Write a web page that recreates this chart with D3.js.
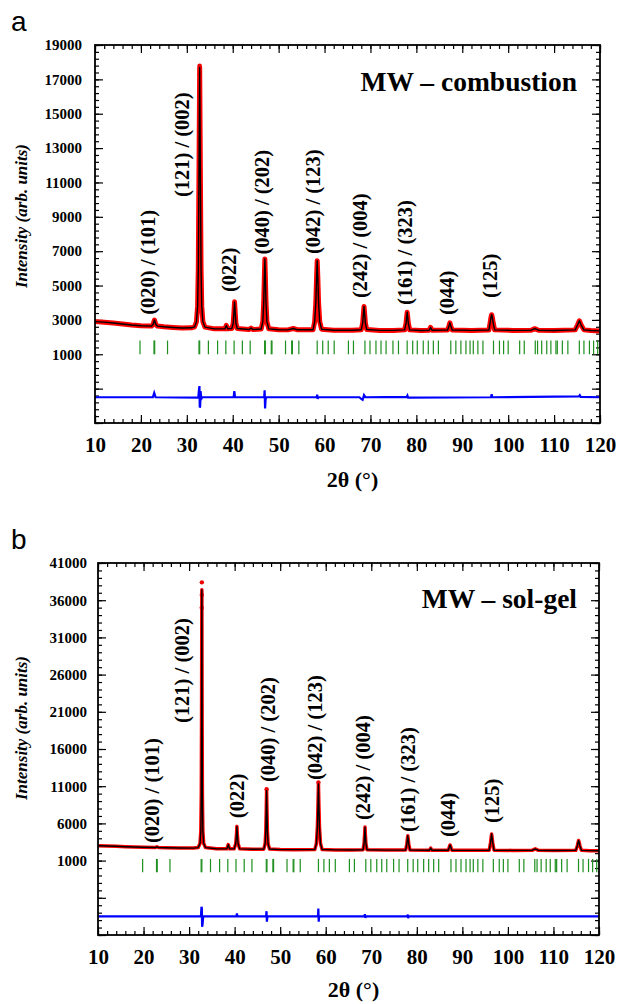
<!DOCTYPE html>
<html>
<head>
<meta charset="utf-8">
<script src="https://cdn.jsdelivr.net/npm/d3@7"></script>
<style>
  body { margin: 0; background: #fff; }
  svg text { font-family: "Liberation Serif", "Times New Roman", serif; font-weight: bold; fill: #000; }
  svg text.letter { font-family: "Liberation Sans", Arial, sans-serif; font-weight: normal; }
  svg text.ylab { font-style: italic; }
</style>
</head>
<body>
<svg id="chart" width="619" height="1004"></svg>
<script>
/* ---------- data ---------- */
const xTicks = [10, 20, 30, 40, 50, 60, 70, 80, 90, 100, 110, 120];
const yTicksA = [1000, 3000, 5000, 7000, 9000, 11000, 13000, 15000, 17000, 19000];
const yTicksB = [1000, 6000, 11000, 16000, 21000, 26000, 31000, 36000, 41000];

// observed / calculated profile, panel a  [2theta, counts]
const profileA = [
  [10,2900],[12,2870],[14,2820],[16,2760],[18,2700],[20,2660],[22.3,2640],[22.65,2730],[22.95,2990],[23.25,2730],
  [23.6,2640],[25,2600],[27,2560],[29,2530],[31,2540],[31.7,2600],[32.1,2900],[32.35,3800],[32.5,6000],[32.66,12000],
  [32.8,17700],[32.94,12000],[33.1,6000],[33.25,3800],[33.5,2900],[33.95,2580],[36,2480],[38.3,2480],[38.6,2680],[38.9,2480],
  [39.8,2500],[40.1,2800],[40.28,3500],[40.4,4050],[40.52,3500],[40.7,2800],[41.0,2500],[43.5,2440],[44.0,2520],[44.4,2440],
  [46.2,2470],[46.55,2900],[46.75,4000],[46.9,5600],[47.0,6550],[47.1,5600],[47.25,4000],[47.45,2900],[47.85,2480],[50,2430],
  [52,2420],[53.2,2500],[54,2430],[57.5,2430],[57.85,2900],[58.1,4000],[58.27,5500],[58.4,6450],[58.53,5500],[58.7,4000],
  [58.95,2900],[59.35,2460],[62,2400],[66,2400],[68.0,2430],[68.3,2800],[68.48,3400],[68.6,3780],[68.72,3400],[68.9,2800],
  [69.2,2440],[72,2390],[75,2390],[77.45,2420],[77.75,2800],[77.9,3200],[78.0,3450],[78.1,3200],[78.25,2800],[78.55,2420],
  [81,2380],[82.8,2400],[83.1,2560],[83.4,2400],[86.8,2410],[87.1,2650],[87.3,2830],[87.5,2650],[87.8,2410],[92,2390],
  [95.8,2410],[96.05,2800],[96.25,3150],[96.4,3300],[96.55,3150],[96.75,2800],[97.05,2420],[101,2390],[105,2400],[105.8,2490],
  [106.6,2400],[110,2380],[114.6,2420],[115.1,2700],[115.5,2950],[115.9,2700],[116.5,2420],[118,2380],[120,2360]
];
const obsTopsA = [[32.8, 17800], [32.8, 17300]];
const diffA = [
  [10,-1500],[22.6,-1500],[22.9,-1250],[23.2,-1500],[32.5,-1520],[32.65,-1050],[32.75,-850],[32.82,-2100],[32.9,-2050],
  [33.0,-1150],[33.15,-1600],[33.4,-1500],[40.2,-1500],[40.35,-1150],[40.5,-1500],[46.85,-1500],[46.95,-1100],[47.05,-2150],
  [47.15,-1650],[47.3,-1500],[58.3,-1500],[58.4,-1350],[58.5,-1600],[58.6,-1500],[67.6,-1500],[68.0,-1600],[68.3,-1650],
  [68.6,-1380],[68.9,-1500],[77.9,-1480],[78.05,-1400],[78.2,-1520],[96.25,-1500],[96.4,-1330],[96.55,-1500],[115.4,-1450],
  [115.6,-1380],[115.8,-1480],[120,-1500]
];

// panel b
const profileB = [
  [10,3000],[12,2960],[14,2920],[16,2870],[18,2830],[20,2790],[22.6,2760],[22.95,2850],[23.3,2760],[25,2730],
  [28,2690],[31,2680],[32.0,2750],[32.4,3300],[32.58,5000],[32.68,10000],[32.74,20000],[32.8,37400],[32.86,20000],[32.92,10000],
  [33.02,5000],[33.2,3300],[33.6,2750],[36,2600],[38.3,2580],[38.6,3150],[38.9,2580],[39.9,2580],[40.25,3300],[40.42,4600],
  [40.5,5600],[40.58,4600],[40.75,3300],[41.1,2580],[44,2520],[46.4,2540],[46.7,3300],[46.85,5000],[46.95,8000],[47.02,10400],
  [47.09,8000],[47.19,5000],[47.34,3300],[47.65,2560],[50,2480],[53,2470],[57.6,2480],[57.95,3300],[58.17,5500],[58.3,8500],
  [58.4,11300],[58.5,8500],[58.63,5500],[58.85,3300],[59.2,2500],[62,2440],[66,2430],[68.2,2450],[68.42,3300],[68.54,4500],
  [68.62,5500],[68.7,4500],[68.82,3300],[69.05,2460],[73,2410],[77.55,2420],[77.8,3200],[77.93,3900],[78.02,4350],[78.11,3900],
  [78.24,3200],[78.5,2420],[82.8,2400],[83.05,2680],[83.3,2400],[86.9,2400],[87.12,2800],[87.3,3100],[87.48,2800],[87.7,2400],
  [92,2380],[95.9,2400],[96.18,3400],[96.32,4100],[96.42,4580],[96.52,4100],[96.66,3400],[96.95,2400],[101,2370],[105.3,2380],
  [106,2580],[106.7,2380],[110,2360],[114.9,2380],[115.25,3000],[115.42,3500],[115.52,3700],[115.62,3500],[115.8,3000],[116.15,2380],
  [118,2340],[120,2320]
];
const obsTopsB = [[32.8, 38400], [32.79, 36700], [32.78, 35000], [47.02, 10600], [58.4, 11500]];
const diffB = [
  [10,-6500],[32.6,-6500],[32.72,-5200],[32.8,-5400],[32.86,-7900],[32.95,-7600],[33.1,-6500],[40.4,-6500],[40.5,-6100],
  [40.6,-6500],[46.9,-6500],[47.0,-5800],[47.08,-7200],[47.2,-6500],[58.3,-6500],[58.38,-5450],[58.46,-7200],[58.55,-6500],
  [68.5,-6500],[68.6,-6200],[68.7,-6700],[68.8,-6500],[77.95,-6500],[78.02,-6250],[78.1,-6750],[78.2,-6500],[120,-6500]
];

// Bragg reflection positions (2theta)
const braggPos = [
  19.8, 22.85, 23.0, 25.8, 32.65, 32.8, 34.7, 36.7, 38.5, 40.3, 42.1, 43.8, 46.95, 47.1, 48.4, 48.55, 51.5, 52.85, 53.0, 54.4,
  58.4, 59.6, 60.8, 62.1, 65.2, 66.3, 68.8, 69.9, 71.2, 72.3, 73.4, 74.9, 76.1, 78.0, 79.2, 80.2, 81.5, 82.6, 83.7, 84.8,
  87.5, 88.6, 89.7, 90.8, 91.7, 92.4, 93.4, 94.5, 96.8, 98.1, 99.0, 100.0, 102.5, 103.5, 105.9, 106.4, 107.3, 108.4, 109.3,
  110.4, 110.7, 111.8, 113.0, 115.5, 116.5, 117.7, 118.6, 119.5
];

// peak labels and where they sit (2theta, counts at text start)
const peakLabels = ['(020) / (101)', '(121) / (002)', '(022)', '(040) / (202)', '(042) / (123)', '(242) / (004)', '(161) / (323)', '(044)', '(125)'];
const labelPosA = [[21.5, 3300], [29.0, 10150], [39.2, 4620], [46.4, 6800], [57.5, 6830], [67.7, 4270], [77.5, 3870], [86.7, 3280], [96.1, 4270]];
const labelPosB = [[21.9, 3370], [28.4, 19500], [40.5, 6700], [47.3, 11560], [57.6, 11830], [68.2, 6460], [78.1, 4840], [86.8, 4170], [96.5, 6050]];

/* ---------- layout ---------- */
const PANELS = [
  {
    letter: 'a', title: 'MW \u2013 combustion',
    left: 95, top: 45, width: 505, height: 378,
    yDomain: [-3000, 19000], yMajor: 2000, yMinor: 400, yTicks: yTicksA, yPad: 13,
    profile: profileA, obsTops: obsTopsA, diff: diffA, bragg: [1000, 1800], labels: labelPosA,
    redWidth: 5, titleY: 46, xLabelY: 487, yLabelY: 216,
  },
  {
    letter: 'b', title: 'MW \u2013 sol-gel',
    left: 98, top: 563, width: 501, height: 372,
    yDomain: [-9000, 41000], yMajor: 5000, yMinor: 1000, yTicks: yTicksB, yPad: 11,
    profile: profileB, obsTops: obsTopsB, diff: diffB, bragg: [-560, 1230], labels: labelPosB,
    redWidth: 3.5, titleY: 45, xLabelY: 997, yLabelY: 728,
  },
];

const svg = d3.select('#chart');

const cleanAxis = sel => {
  sel.select('.domain').remove();
  sel.selectAll('.tick line').attr('stroke', '#000').attr('stroke-width', 1.2);
};

const drawPanel = (P) => {
  const x = d3.scaleLinear().domain([10, 120]).range([0, P.width]);
  const y = d3.scaleLinear().domain(P.yDomain).range([P.height, 0]);
  const g = svg.append('g').attr('transform', `translate(${P.left},${P.top})`);

  const xMinor = d3.range(10, 120.1, 2);
  const yMajorAll = d3.range(P.yDomain[0], P.yDomain[1] + 1, P.yMajor);
  const yMinorAll = d3.range(P.yDomain[0], P.yDomain[1] + 1, P.yMinor);

  // minor ticks, all four sides, pointing inwards
  g.append('g').call(d3.axisLeft(y).tickValues(yMinorAll).tickSize(-4).tickFormat('')).call(cleanAxis);
  g.append('g').attr('transform', `translate(${P.width},0)`)
    .call(d3.axisRight(y).tickValues(yMinorAll).tickSize(-4).tickFormat('')).call(cleanAxis);
  g.append('g').attr('transform', `translate(0,${P.height})`)
    .call(d3.axisBottom(x).tickValues(xMinor).tickSize(-4).tickFormat('')).call(cleanAxis);
  g.append('g').call(d3.axisTop(x).tickValues(xMinor).tickSize(-4).tickFormat('')).call(cleanAxis);

  // major ticks
  g.append('g')
    .call(d3.axisLeft(y).tickValues(yMajorAll).tickSize(-8).tickPadding(P.yPad)
      .tickFormat(d => P.yTicks.includes(d) ? d : ''))
    .call(cleanAxis)
    .selectAll('text').attr('font-size', 15);
  g.append('g').attr('transform', `translate(${P.width},0)`)
    .call(d3.axisRight(y).tickValues(yMajorAll).tickSize(-8).tickFormat('')).call(cleanAxis);
  g.append('g').attr('transform', `translate(0,${P.height})`)
    .call(d3.axisBottom(x).tickValues(xTicks).tickSize(-8).tickPadding(14).tickFormat(d => d))
    .call(cleanAxis)
    .selectAll('text').attr('font-size', 21);
  g.append('g').call(d3.axisTop(x).tickValues(xTicks).tickSize(-8).tickFormat('')).call(cleanAxis);

  // Bragg positions
  g.append('g').selectAll('line')
    .data(braggPos)
    .join('line')
    .attr('x1', d => x(d)).attr('x2', d => x(d))
    .attr('y1', y(P.bragg[0])).attr('y2', y(P.bragg[1]))
    .attr('stroke', '#1f8f1f')
    .attr('stroke-width', 1.2);

  const line = d3.line().x(d => x(d[0])).y(d => y(d[1]));

  // difference curve
  g.append('path').datum(P.diff)
    .attr('d', line).attr('fill', 'none')
    .attr('stroke', '#0000ff').attr('stroke-width', 2.2);

  // observed (red) and calculated (black)
  g.append('path').datum(P.profile)
    .attr('d', line).attr('fill', 'none')
    .attr('stroke', '#ff0000').attr('stroke-width', P.redWidth)
    .attr('stroke-linejoin', 'round');
  g.append('g').selectAll('circle')
    .data(P.obsTops)
    .join('circle')
    .attr('cx', d => x(d[0])).attr('cy', d => y(d[1]))
    .attr('r', 2.2).attr('fill', '#ee0000');
  g.append('path').datum(P.profile)
    .attr('d', line).attr('fill', 'none')
    .attr('stroke', '#000').attr('stroke-width', 1.4)
    .attr('stroke-linejoin', 'round');

  // frame
  g.append('rect')
    .attr('width', P.width).attr('height', P.height)
    .attr('fill', 'none').attr('stroke', '#000').attr('stroke-width', 1.8);

  // peak labels
  g.append('g').selectAll('text')
    .data(peakLabels)
    .join('text')
    .attr('transform', (d, i) => `translate(${x(P.labels[i][0])},${y(P.labels[i][1])}) rotate(-90)`)
    .attr('dy', '0.35em')
    .attr('font-size', 20.5)
    .text(d => d);

  // title inside plot
  g.append('text')
    .attr('x', 577 - P.left).attr('y', P.titleY)
    .attr('text-anchor', 'end')
    .attr('font-size', 27.5)
    .text(P.title);

  // axis titles
  svg.append('text')
    .attr('x', P.left + P.width / 2 + 5).attr('y', P.xLabelY)
    .attr('text-anchor', 'middle')
    .attr('font-size', 22)
    .text('2\u03b8 (\u00b0)');
  svg.append('text')
    .classed('ylab', true)
    .attr('transform', `translate(27,${P.yLabelY}) rotate(-90)`)
    .attr('text-anchor', 'middle')
    .attr('font-size', 17)
    .text('Intensity (arb. units)');

  // panel letter
  svg.append('text')
    .classed('letter', true)
    .attr('x', 11).attr('y', P.top - 14)
    .attr('font-size', 28)
    .text(P.letter);
};

PANELS.forEach(drawPanel);
</script>
</body>
</html>
